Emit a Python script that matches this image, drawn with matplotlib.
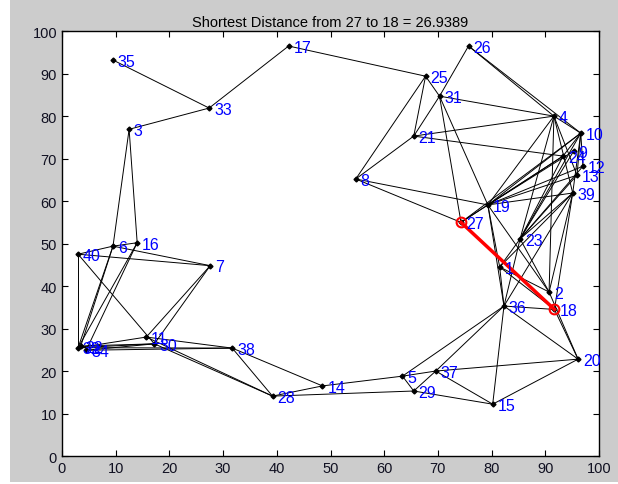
import numpy as np
import matplotlib
matplotlib.use('Agg')
import matplotlib.pyplot as plt
from matplotlib.patches import Rectangle

plt.rcParams['font.family'] = ['Liberation Sans', 'DejaVu Sans']

# node coordinates, node k is at index k-1
node_x = [81.5, 90.7, 12.5, 91.6, 63.4, 9.5, 27.6, 54.7, 95.3, 96.6,
          15.7, 97.0, 95.9, 48.5, 80.2, 14.0, 42.2, 91.7, 79.3, 96.1,
          65.5, 3.5, 85.3, 93.3, 67.7, 75.7, 74.3, 39.2, 65.5, 17.2,
          70.3, 3.0, 27.4, 4.5, 9.5, 82.3, 69.6, 31.7, 95.1, 3.0]
node_y = [44.5, 38.6, 76.9, 80.0, 18.8, 49.4, 44.8, 65.2, 71.8, 76.0,
          28.0, 68.2, 66.1, 16.5, 12.2, 50.2, 96.5, 34.5, 59.1, 22.8,
          75.3, 25.9, 51.1, 70.6, 89.4, 96.5, 55.0, 14.1, 15.3, 26.4,
          84.7, 25.5, 81.9, 24.9, 93.2, 35.3, 20.0, 25.4, 61.9, 47.5]

# graph edges (1-based node ids)
edges = [(35, 33), (33, 3), (33, 17), (17, 25), (3, 6), (3, 16), (40, 6), (6, 16),
         (40, 7), (6, 7), (40, 32), (40, 30), (6, 32), (6, 22), (16, 32), (16, 34),
         (7, 11), (7, 30), (32, 11), (22, 30), (34, 30), (32, 30), (32, 38), (11, 38),
         (34, 38), (30, 28), (11, 28), (38, 28), (38, 14), (28, 14), (28, 29), (14, 5),
         (25, 21), (25, 8), (25, 31), (31, 19), (31, 27), (26, 31), (31, 21), (26, 4),
         (26, 10), (31, 4), (21, 4), (21, 24), (21, 8), (8, 19), (8, 27), (4, 10),
         (4, 19), (4, 23), (4, 13), (4, 39), (4, 2), (10, 19), (10, 27), (10, 23),
         (10, 13), (10, 39), (10, 24), (10, 12), (19, 24), (19, 9), (19, 12), (19, 13),
         (19, 39), (19, 1), (19, 36), (19, 2), (27, 19), (27, 24), (23, 24), (23, 9),
         (23, 12), (23, 13), (23, 39), (23, 1), (23, 2), (23, 36), (1, 2), (1, 18),
         (1, 36), (1, 39), (39, 2), (39, 18), (39, 36), (36, 18), (2, 20), (18, 20),
         (36, 20), (36, 5), (36, 37), (5, 37), (5, 29), (29, 15), (37, 15), (37, 20),
         (15, 36), (15, 20), (29, 37)]

path = [27, 18]
title_text = 'Shortest Distance from 27 to 18 = 26.9389'

fig = plt.figure(figsize=(6.18, 4.85), dpi=100, facecolor='#cccccc')
# white strip along the left and bottom edges of the window capture
fig.patches.append(Rectangle((0, 0), 10 / 618, 1, transform=fig.transFigure,
                             facecolor='white', edgecolor='none', zorder=0))
fig.patches.append(Rectangle((0, 0), 1, 2 / 485, transform=fig.transFigure,
                             facecolor='white', edgecolor='none', zorder=0))

ax = fig.add_axes([0.1003, 0.0577, 0.869, 0.876])
ax.set_facecolor('white')

for a, b in edges:
    ax.plot([node_x[a - 1], node_x[b - 1]], [node_y[a - 1], node_y[b - 1]],
            color='black', lw=0.7, zorder=1)

ax.plot(node_x, node_y, 'D', color='black', ms=2.5, zorder=2)

for k in range(len(node_x)):
    ax.text(node_x[k] + 0.9, node_y[k] - 0.3, str(k + 1), color='#0000ff',
            fontsize=11.5, ha='left', va='center', zorder=4)

px = [node_x[k - 1] for k in path]
py = [node_y[k - 1] for k in path]
ax.plot(px, py, color='red', lw=2.5, zorder=3)
ax.plot(px, py, 'o', mfc='none', mec='red', ms=7, mew=1.5, zorder=3)

ax.set_xlim(0, 100)
ax.set_ylim(0, 100)
ax.set_xticks(np.arange(0, 101, 10))
ax.set_yticks(np.arange(0, 101, 10))
ax.tick_params(direction='in', top=True, right=True, length=4, labelsize=10.5,
               labelcolor='#111122', width=0.8)
for s in ax.spines.values():
    s.set_linewidth(1.0)
ax.set_title(title_text, fontsize=10.5, pad=4)

fig.savefig('out.png', dpi=100, facecolor=fig.get_facecolor())
